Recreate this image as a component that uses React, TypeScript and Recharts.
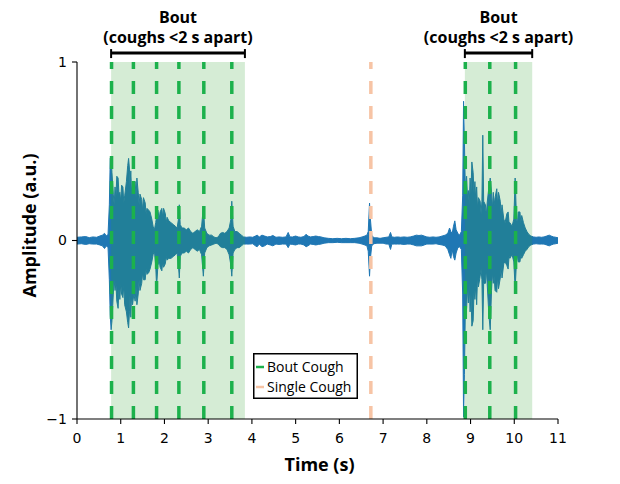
import React from 'react';
import {
  ComposedChart,
  Area,
  XAxis,
  YAxis,
  ReferenceArea,
  ReferenceLine,
  Legend,
  Label,
} from 'recharts';

// Envelope of the recorded waveform: time (s) with upper / lower amplitude (a.u.)
const timeSec = [
  0.0, 0.1, 0.2, 0.28, 0.36, 0.45, 0.52, 0.58, 0.63, 0.67, 0.71, 0.74, 0.76, 0.78, 0.8, 0.83,
  0.85, 0.87, 0.89, 0.91, 0.94, 0.96, 0.98, 1.0, 1.02, 1.05, 1.07, 1.09, 1.13, 1.16, 1.18, 1.2,
  1.21, 1.23, 1.25, 1.27, 1.3, 1.33, 1.35, 1.37, 1.4, 1.42, 1.44, 1.48, 1.5, 1.52, 1.56, 1.58,
  1.6, 1.64, 1.67, 1.71, 1.74, 1.77, 1.8, 1.82, 1.85, 1.88, 1.9, 1.94, 1.96, 1.98, 2.02, 2.04,
  2.06, 2.1, 2.15, 2.2, 2.25, 2.29, 2.32, 2.34, 2.36, 2.4, 2.45, 2.5, 2.55, 2.6, 2.65, 2.7,
  2.75, 2.8, 2.85, 2.89, 2.92, 2.97, 3.02, 3.08, 3.13, 3.18, 3.23, 3.28, 3.33, 3.38, 3.43, 3.48,
  3.52, 3.54, 3.57, 3.61, 3.66, 3.71, 3.76, 3.81, 3.88, 3.95, 4.02, 4.08, 4.12, 4.17, 4.23, 4.29,
  4.35, 4.42, 4.48, 4.55, 4.62, 4.7, 4.78, 4.83, 4.87, 4.93, 5.0, 5.06, 5.12, 5.19, 5.24, 5.28,
  5.34, 5.4, 5.46, 5.52, 5.58, 5.65, 5.75, 5.85, 5.95, 6.05, 6.15, 6.25, 6.35, 6.45, 6.52, 6.58,
  6.63, 6.66, 6.69, 6.71, 6.74, 6.79, 6.86, 6.93, 7.0, 7.07, 7.13, 7.17, 7.2, 7.26, 7.33, 7.4,
  7.48, 7.55, 7.62, 7.7, 7.76, 7.82, 7.88, 7.94, 8.0, 8.07, 8.14, 8.21, 8.28, 8.35, 8.42, 8.48,
  8.52, 8.55, 8.58, 8.61, 8.64, 8.67, 8.71, 8.75, 8.79, 8.82, 8.84, 8.86, 8.88, 8.91, 8.93, 8.95,
  8.97, 8.99, 9.01, 9.03, 9.06, 9.08, 9.1, 9.12, 9.14, 9.16, 9.18, 9.22, 9.24, 9.26, 9.28, 9.3,
  9.34, 9.36, 9.38, 9.42, 9.45, 9.48, 9.5, 9.52, 9.54, 9.56, 9.6, 9.62, 9.64, 9.68, 9.7, 9.72,
  9.76, 9.79, 9.83, 9.86, 9.88, 9.9, 9.95, 9.99, 10.02, 10.05, 10.07, 10.09, 10.13, 10.15, 10.17, 10.21,
  10.25, 10.29, 10.33, 10.38, 10.44, 10.5, 10.56, 10.62, 10.68, 10.74, 10.8, 10.84, 10.9, 10.95, 11.0,
];

const envHigh = [
  0.018, 0.02, 0.022, 0.016, 0.02, 0.018, 0.025, 0.03, 0.04, 0.025, 0.035, 0.2, 0.46, 0.47, 0.38, 0.26,
  0.2, 0.3, 0.24, 0.36, 0.35, 0.26, 0.27, 0.22, 0.31, 0.3, 0.21, 0.25, 0.33, 0.42, 0.46, 0.4,
  0.3, 0.39, 0.26, 0.3, 0.31, 0.33, 0.24, 0.35, 0.27, 0.2, 0.26, 0.23, 0.17, 0.24, 0.21, 0.15,
  0.18, 0.17, 0.16, 0.12, 0.08, 0.06, 0.1, 0.14, 0.17, 0.12, 0.16, 0.18, 0.13, 0.18, 0.15, 0.1,
  0.13, 0.11, 0.1, 0.09, 0.08, 0.07, 0.12, 0.2, 0.09, 0.07, 0.07, 0.06, 0.07, 0.05, 0.04, 0.05,
  0.06, 0.05, 0.08, 0.19, 0.07, 0.04, 0.03, 0.03, 0.02, 0.015, 0.02, 0.04, 0.045, 0.04, 0.05, 0.07,
  0.12, 0.22, 0.08, 0.05, 0.05, 0.04, 0.03, 0.02, 0.018, 0.02, 0.018, 0.025, 0.03, 0.02, 0.03, 0.025,
  0.02, 0.022, 0.028, 0.018, 0.02, 0.018, 0.02, 0.045, 0.02, 0.02, 0.025, 0.02, 0.018, 0.022, 0.035, 0.025,
  0.02, 0.022, 0.025, 0.022, 0.02, 0.015, 0.012, 0.01, 0.012, 0.01, 0.012, 0.01, 0.012, 0.015, 0.02, 0.025,
  0.03, 0.05, 0.21, 0.12, 0.03, 0.015, 0.015, 0.012, 0.015, 0.018, 0.02, 0.045, 0.02, 0.018, 0.02, 0.018,
  0.02, 0.018, 0.02, 0.025, 0.03, 0.028, 0.03, 0.025, 0.02, 0.018, 0.02, 0.018, 0.02, 0.025, 0.03, 0.04,
  0.07, 0.05, 0.04, 0.08, 0.11, 0.06, 0.04, 0.03, 0.05, 0.25, 0.78, 0.55, 0.3, 0.36, 0.24, 0.28,
  0.2, 0.35, 0.26, 0.44, 0.38, 0.26, 0.33, 0.22, 0.3, 0.18, 0.24, 0.22, 0.15, 0.22, 0.59, 0.22,
  0.2, 0.14, 0.21, 0.3, 0.35, 0.27, 0.18, 0.27, 0.2, 0.24, 0.29, 0.2, 0.27, 0.22, 0.15, 0.2,
  0.12, 0.1, 0.15, 0.16, 0.1, 0.1, 0.08, 0.12, 0.35, 0.13, 0.09, 0.16, 0.16, 0.1, 0.14, 0.1,
  0.07, 0.05, 0.035, 0.025, 0.02, 0.018, 0.02, 0.018, 0.02, 0.025, 0.03, 0.025, 0.02, 0.018, 0.015,
];

const envLow = [
  -0.02, -0.018, -0.022, -0.018, -0.02, -0.02, -0.025, -0.03, -0.045, -0.03, -0.04, -0.22, -0.42, -0.5, -0.45, -0.3,
  -0.22, -0.28, -0.24, -0.34, -0.38, -0.27, -0.33, -0.24, -0.3, -0.32, -0.25, -0.36, -0.4, -0.46, -0.49, -0.4,
  -0.31, -0.43, -0.3, -0.36, -0.3, -0.34, -0.26, -0.36, -0.3, -0.22, -0.28, -0.24, -0.18, -0.22, -0.22, -0.16,
  -0.19, -0.18, -0.16, -0.12, -0.08, -0.06, -0.14, -0.26, -0.14, -0.11, -0.15, -0.17, -0.12, -0.15, -0.13, -0.09,
  -0.11, -0.1, -0.1, -0.09, -0.08, -0.07, -0.14, -0.21, -0.09, -0.07, -0.07, -0.06, -0.07, -0.05, -0.04, -0.05,
  -0.06, -0.05, -0.08, -0.2, -0.07, -0.04, -0.03, -0.025, -0.02, -0.015, -0.02, -0.035, -0.04, -0.04, -0.05, -0.08,
  -0.14, -0.2, -0.07, -0.05, -0.04, -0.04, -0.03, -0.02, -0.02, -0.02, -0.018, -0.03, -0.035, -0.02, -0.035, -0.03,
  -0.02, -0.025, -0.03, -0.02, -0.022, -0.02, -0.02, -0.04, -0.02, -0.022, -0.025, -0.02, -0.02, -0.025, -0.035, -0.03,
  -0.02, -0.022, -0.025, -0.022, -0.02, -0.015, -0.012, -0.012, -0.01, -0.012, -0.012, -0.012, -0.012, -0.015, -0.02, -0.025,
  -0.03, -0.06, -0.2, -0.1, -0.03, -0.018, -0.015, -0.015, -0.015, -0.02, -0.02, -0.05, -0.02, -0.02, -0.02, -0.02,
  -0.022, -0.02, -0.02, -0.025, -0.03, -0.03, -0.03, -0.025, -0.02, -0.02, -0.02, -0.018, -0.022, -0.025, -0.03, -0.05,
  -0.08, -0.1, -0.05, -0.09, -0.11, -0.07, -0.04, -0.035, -0.05, -0.3, -0.99, -0.75, -0.4, -0.38, -0.26, -0.35,
  -0.24, -0.4, -0.3, -0.48, -0.45, -0.28, -0.33, -0.25, -0.36, -0.2, -0.26, -0.2, -0.16, -0.22, -0.5, -0.24,
  -0.24, -0.16, -0.24, -0.42, -0.5, -0.28, -0.18, -0.24, -0.2, -0.28, -0.29, -0.2, -0.27, -0.21, -0.15, -0.21,
  -0.13, -0.12, -0.14, -0.16, -0.09, -0.1, -0.08, -0.12, -0.27, -0.12, -0.08, -0.12, -0.12, -0.08, -0.1, -0.08,
  -0.06, -0.05, -0.035, -0.025, -0.02, -0.018, -0.02, -0.02, -0.02, -0.025, -0.03, -0.025, -0.02, -0.018, -0.015,
];

// Annotated cough onsets (s)
const boutCoughTimes = [0.79, 1.29, 1.82, 2.33, 2.9, 3.54, 8.88, 9.44, 10.03];
const singleCoughTimes = [6.72];

// Bout spans (s)
const boutStarts = [0.78, 8.87];
const boutEnds = [3.84, 10.41];

const boutTitle = 'Bout';
const boutSubtitle = '(coughs <2 s apart)';

const legendLabels = ['Bout Cough', 'Single Cough'];

const xTicks = [0, 1, 2, 3, 4, 5, 6, 7, 8, 9, 10, 11];
const yTicks = [-1, 0, 1];

const xTitle = 'Time (s)';
const yTitle = 'Amplitude (a.u.)';

const WAVE_BLUE = '#1f77b4';
const BOUT_GREEN = '#1cb14c';
const SINGLE_SALMON = '#f7c4a5';
const BAND_GREEN = '#2ca02c';
const TITLE_FONT = '"Open Sans", "Noto Sans", sans-serif';
const TICK_FONT = '"DejaVu Sans", sans-serif';

const rows = timeSec.map((t, i) => ({ t, amp: [envLow[i], envHigh[i]] }));

// bracket + caption drawn above each bout
const BoutBracket = (props: any) => {
  const { x1, y1, x2 } = props;
  const cx = (x1 + x2) / 2;
  return (
    <g>
      <line x1={x1} y1={y1} x2={x2} y2={y1} stroke="#000" strokeWidth={3} />
      <line x1={x1} y1={y1 - 4} x2={x1} y2={y1 + 5} stroke="#000" strokeWidth={2} />
      <line x1={x2} y1={y1 - 4} x2={x2} y2={y1 + 5} stroke="#000" strokeWidth={2} />
      <text
        x={cx}
        y={y1 - 30}
        textAnchor="middle"
        fontFamily={TITLE_FONT}
        fontWeight={700}
        fontSize={16}
        fill="#000"
      >
        {boutTitle}
      </text>
      <text
        x={cx}
        y={y1 - 10}
        textAnchor="middle"
        fontFamily={TITLE_FONT}
        fontWeight={700}
        fontSize={16}
        fill="#000"
      >
        {boutSubtitle}
      </text>
    </g>
  );
};

const LegendBox = () => {
  const colors = [BOUT_GREEN, SINGLE_SALMON];
  return (
    <svg width={105} height={46} style={{ display: 'block' }}>
      <rect x={0.75} y={0.75} width={103.5} height={44.5} fill="#fff" stroke="#000" strokeWidth={1.5} />
      {legendLabels.map((name, i) => (
        <g key={name}>
          <line x1={3} x2={11} y1={14 + i * 20} y2={14 + i * 20} stroke={colors[i]} strokeWidth={2.5} />
          <text x={14} y={19 + i * 20} fontFamily={TITLE_FONT} fontSize={14} fill="#000">
            {name}
          </text>
        </g>
      ))}
    </svg>
  );
};

const fmtY = (v: number) => (v < 0 ? `\u2212${Math.abs(v)}` : String(v));

export default function App() {
  return (
    <div style={{ position: 'absolute', left: 0, top: 0, background: '#fff' }}>
      <ComposedChart
        width={620}
        height={484}
        data={rows}
        margin={{ top: 62, right: 62, bottom: 25, left: 17 }}
      >
        <XAxis
          type="number"
          dataKey="t"
          domain={[0, 11]}
          ticks={xTicks}
          interval={0}
          height={40}
          axisLine={{ stroke: '#000', strokeWidth: 1.1 }}
          tickLine={{ stroke: '#000', strokeWidth: 1.1 }}
          tickSize={5}
          tickMargin={9}
          tick={{ fill: '#000', fontSize: 14, fontFamily: TICK_FONT }}
        >
          <Label
            content={(p: any) => {
              const vb = p.viewBox;
              return (
                <text
                  x={vb.x + vb.width / 2 + 2}
                  y={vb.y + 52}
                  textAnchor="middle"
                  fontFamily={TITLE_FONT}
                  fontWeight={700}
                  fontSize={18}
                  fill="#000"
                >
                  {xTitle}
                </text>
              );
            }}
          />
        </XAxis>
        <YAxis
          type="number"
          domain={[-1, 1]}
          ticks={yTicks}
          interval={0}
          width={60}
          tickFormatter={fmtY}
          axisLine={{ stroke: '#000', strokeWidth: 1.1 }}
          tickLine={{ stroke: '#000', strokeWidth: 1.1 }}
          tickSize={5}
          tickMargin={5}
          tick={{ fill: '#000', fontSize: 14, fontFamily: TICK_FONT }}
        >
          <Label
            content={(p: any) => {
              const vb = p.viewBox;
              const x = vb.x + 19;
              const y = vb.y + vb.height / 2 - 15;
              return (
                <text
                  x={x}
                  y={y}
                  transform={`rotate(-90, ${x}, ${y})`}
                  textAnchor="middle"
                  fontFamily={TITLE_FONT}
                  fontWeight={700}
                  fontSize={18}
                  fill="#000"
                >
                  {yTitle}
                </text>
              );
            }}
          />
        </YAxis>

        <Area
          type="linear"
          dataKey="amp"
          stroke={WAVE_BLUE}
          strokeWidth={1}
          fill={WAVE_BLUE}
          fillOpacity={1}
          isAnimationActive={false}
          dot={false}
          activeDot={false}
        />

        {boutStarts.map((s, i) => (
          <ReferenceArea
            key={`band-${i}`}
            x1={s}
            x2={boutEnds[i]}
            fill={BAND_GREEN}
            fillOpacity={0.2}
            stroke="none"
          />
        ))}

        {boutCoughTimes.map((t) => (
          <ReferenceLine
            key={`bc-${t}`}
            x={t}
            stroke={BOUT_GREEN}
            strokeWidth={3.5}
            strokeDasharray="13 12"
          />
        ))}
        {singleCoughTimes.map((t) => (
          <ReferenceLine
            key={`sc-${t}`}
            x={t}
            stroke={SINGLE_SALMON}
            strokeWidth={3.5}
            strokeDasharray="13 12"
          />
        ))}

        {boutStarts.map((s, i) => (
          <ReferenceLine
            key={`bracket-${i}`}
            segment={[
              { x: s, y: 1.05 },
              { x: boutEnds[i], y: 1.05 },
            ]}
            ifOverflow="visible"
            shape={BoutBracket}
          />
        ))}

        <Legend
          layout="horizontal"
          verticalAlign="middle"
          align="center"
          wrapperStyle={{ position: 'absolute', left: 253, top: 353, width: 105, height: 46 }}
          content={() => <LegendBox />}
        />
      </ComposedChart>
    </div>
  );
}
